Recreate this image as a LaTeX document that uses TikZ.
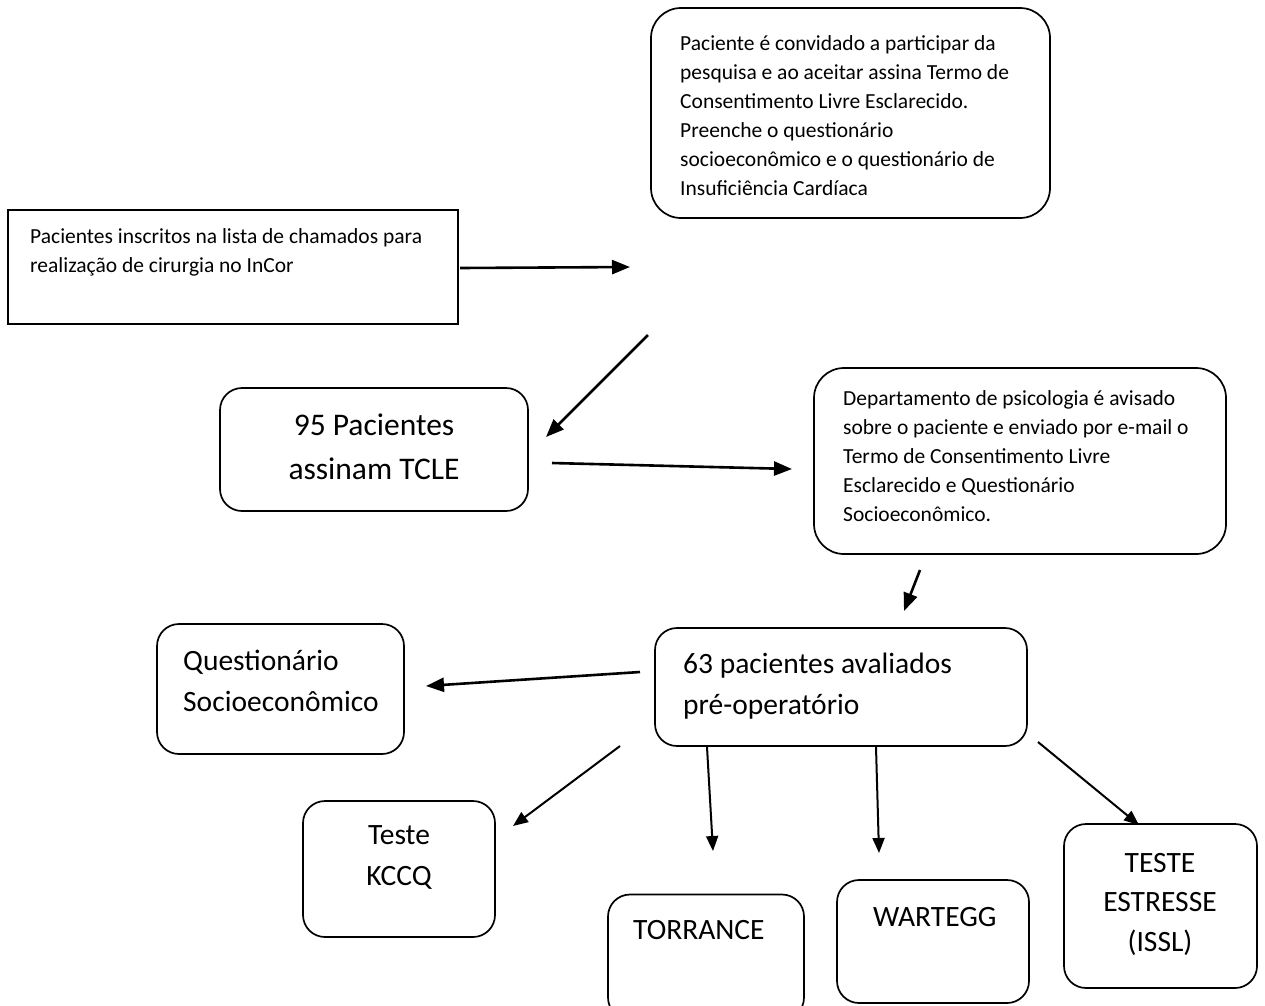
\documentclass[tikz,border=0pt]{standalone}
\usepackage{fontspec}
\setmainfont{Carlito}
\usetikzlibrary{arrows.meta,positioning}

\begin{document}
\begin{tikzpicture}[x=1pt,y=-1pt,>={Triangle[length=18pt,width=14pt]},
                    box/.style={draw,line width=1.7pt,rounded corners=22pt,inner sep=0pt},
                    bigbox/.style={box,rounded corners=30pt},
                    sqbox/.style={draw,line width=1.8pt,inner sep=0pt},
                    small/.style={font=\fontsize{21.5}{29}\selectfont,align=left,inner sep=0pt,anchor=north west},
                    big/.style={font=\fontsize{29.5}{41}\selectfont,align=left,inner sep=0pt,anchor=north west},
                    bigc/.style={big,align=center,anchor=north},
                    link/.style={->,line width=2.6pt},
                    thin link/.style={-{Triangle[length=15pt,width=12pt]},line width=2pt}]

\useasboundingbox (0,0) rectangle (1265,1005);

% caixas
\node[sqbox,minimum width=450,minimum height=114] (lista) at(233,267) {};
\node[bigbox,minimum width=399,minimum height=210] (convite) at(850.5,113) {};
\node[box,minimum width=308,minimum height=123] (tcle) at(374,449.5) {};
\node[bigbox,minimum width=412,minimum height=186] (psico) at(1020,461) {};
\node[box,minimum width=372,minimum height=118] (avaliados) at(841,687) {};
\node[box,minimum width=247,minimum height=130] (socio) at(280.5,689) {};
\node[box,minimum width=192,minimum height=136] (kccq) at(399,869) {};
\node[box,minimum width=196,minimum height=125] (torrance) at(706,957) {};
\node[box,minimum width=192,minimum height=123] (wartegg) at(933,941.5) {};
\node[box,minimum width=193,minimum height=164] (issl) at(1160.5,906) {};

% textos
\node[small] (tlista) at(30,228) {Pacientes inscritos na lista de chamados para\\realização de cirurgia no InCor};
\node[small] (tconvite) at(680,35) {Paciente é convidado a participar da\\pesquisa e ao aceitar assina Termo de\\Consentimento Livre Esclarecido.\\Preenche o questionário\\socioeconômico e o questionário de\\Insuficiência Cardíaca};
\node[bigc,font=\fontsize{31.5}{44}\selectfont] (ttcle) at(374,414) {95 Pacientes\\assinam TCLE};
\node[small] (tpsico) at(843,390) {Departamento de psicologia é avisado\\sobre o paciente e enviado por e-mail o\\Termo de Consentimento Livre\\Esclarecido e Questionário\\Socioeconômico.};
\node[big] (tavaliados) at(683,653) {63 pacientes avaliados\\pré-operatório};
\node[big] (tsocio) at(183,650) {Questionário\\Socioeconômico};
\node[bigc] (tkccq) at(399,825) {Teste\\KCCQ};
\node[big] (ttorrance) at(633,920) {TORRANCE};
\node[big] (twartegg) at(873,907) {WARTEGG};
\node[bigc,font=\fontsize{29.5}{39.5}\selectfont] (tissl) at(1160,853) {TESTE\\ESTRESSE\\(ISSL)};

% pontas das setas
\coordinate (a1) at(460,268);  \coordinate (a2) at(630,267);
\coordinate (b1) at(648,335);  \coordinate (b2) at(546,437);
\coordinate (c1) at(552,463);  \coordinate (c2) at(792,469);
\coordinate (d1) at(920,570);  \coordinate (d2) at(904,611);
\coordinate (e1) at(640,672);  \coordinate (e2) at(426,686);
\coordinate (f1) at(620,746);  \coordinate (f2) at(513,826);
\coordinate (g1) at(707,747);  \coordinate (g2) at(713,851);
\coordinate (h1) at(876,747);  \coordinate (h2) at(879,853);
\coordinate (i1) at(1038,742); \coordinate (i2) at(1139,825);

\draw[link] (a1) -- (a2);
\draw[link] (b1) -- (b2);
\draw[link] (c1) -- (c2);
\draw[link] (d1) -- (d2);
\draw[link] (e1) -- (e2);
\draw[thin link] (f1) -- (f2);
\draw[thin link] (g1) -- (g2);
\draw[thin link] (h1) -- (h2);
\draw[thin link] (i1) -- (i2);

\end{tikzpicture}
\end{document}
